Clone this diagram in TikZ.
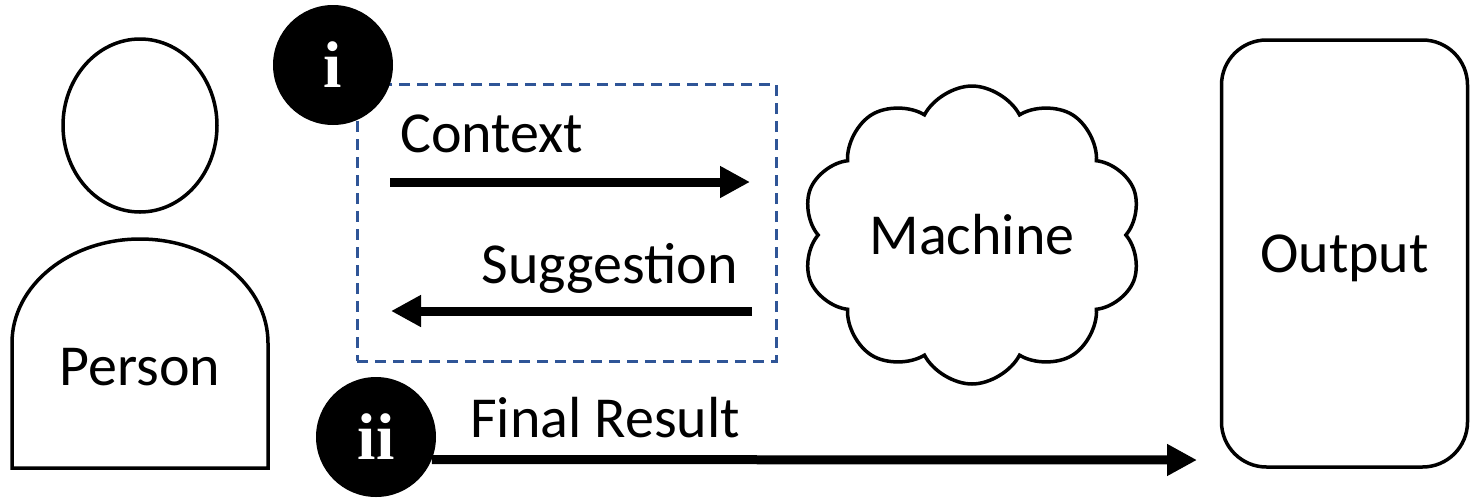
\documentclass[tikz,border=0pt]{standalone}
\usepackage{fontspec}
\setmainfont{Carlito}
\newfontfamily\romfont{Liberation Serif}
\usepackage{xcolor}
\usetikzlibrary{arrows.meta,positioning,shapes.geometric,shapes.symbols}
\definecolor{boxblue}{RGB}{47,85,151}
\tikzset{%
	outline/.style  = {draw, line width=3.5pt},
	txt/.style      = {inner sep=0pt, font=\fontsize{58}{60}\selectfont},
	marker/.style   = {circle, fill=black, minimum size=120pt, inner sep=0pt, text=white, font=\romfont\bfseries\fontsize{66}{68}\selectfont},
	dashbox/.style  = {draw=boxblue, line width=3pt, dash pattern=on 11pt off 7pt, rectangle, inner sep=0pt},
	bigarrow/.style = {line width=9pt, -{Triangle[length=30pt,width=30pt]}},
}

\begin{document}
\begin{tikzpicture}[x=1pt,y=-1pt]
	\useasboundingbox (0,0) rectangle (1470,499);
	
	% person
	\node[outline, ellipse, minimum width=154pt, minimum height=173pt, inner sep=0pt] (head) at (140,125.5) {};
	\draw[outline] (12,468) -- (12,343) arc[start angle=180, end angle=0, x radius=128pt, y radius=104pt] -- (268,468) -- cycle;
	\node[txt, anchor=base] (person) at (140,385) {Person};
	
	% loop with the machine
	\node[dashbox, minimum width=419pt, minimum height=277pt] (loop) at (566.5,222.5) {};
	\node[marker] (i) at (333,65) {i};
	\node[txt, anchor=base west] (ctx) at (400,152) {Context};
	\coordinate (ctxA) at (390,182);
	\coordinate (ctxB) at (750,182);
	\draw[bigarrow] (ctxA) -- (ctxB);
	\node[txt, anchor=base east] (sug) at (738,283) {Suggestion};
	\coordinate (sugA) at (752,311);
	\coordinate (sugB) at (391,311);
	\draw[bigarrow] (sugA) -- (sugB);
	\node[outline, cloud, cloud puffs=10, cloud puff arc=125, aspect=1.15, minimum width=340pt, minimum height=298pt, inner sep=0pt, txt] (mach) at (972,235) {Machine};
	
	% output
	\node[outline, rounded corners=45pt, minimum width=246pt, minimum height=427pt, txt, text depth=0pt] (out) at (1344.5,253.5) {Output};
	\node[marker] (ii) at (376,437) {ii};
	\node[txt, anchor=base west] (final) at (470,437) {Final Result};
	\coordinate (fin) at (1197,460);
	\draw[bigarrow] (ii.-22.5) -- (fin);
\end{tikzpicture}
\end{document}
